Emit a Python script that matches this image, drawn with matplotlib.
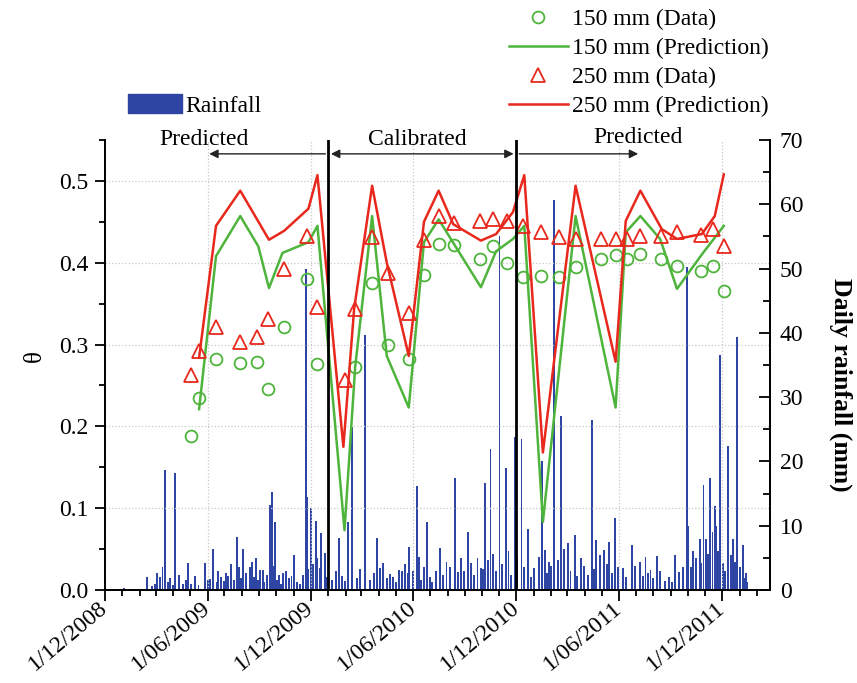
import datetime as dt
import numpy as np
import matplotlib
matplotlib.use('Agg')
import matplotlib.pyplot as plt
import matplotlib.dates as mdates
from matplotlib.ticker import MultipleLocator, FuncFormatter
from matplotlib.patches import Patch

plt.rcParams['font.family'] = ['Liberation Serif', 'DejaVu Serif']

# observed soil moisture (theta)
obs_dates = ['2009-05-02', '2009-05-17', '2009-06-16', '2009-07-29', '2009-08-28',
             '2009-09-16', '2009-10-14', '2009-11-25', '2009-12-13', '2010-01-30',
             '2010-02-18', '2010-03-20', '2010-04-17', '2010-05-24', '2010-06-20',
             '2010-07-16', '2010-08-13', '2010-09-28', '2010-10-21', '2010-11-15',
             '2010-12-13', '2011-01-14', '2011-02-14', '2011-03-16', '2011-04-30',
             '2011-05-26', '2011-06-16', '2011-07-09', '2011-08-15', '2011-09-12',
             '2011-10-24', '2011-11-15', '2011-12-04']
obs_150 = [0.188, 0.235, 0.282, 0.278, 0.279, 0.246, 0.321, 0.380, 0.276, np.nan,
           0.273, 0.375, 0.300, 0.282, 0.385, 0.423, 0.422, 0.405, 0.420, 0.400,
           0.382, 0.384, 0.382, 0.395, 0.404, 0.409, 0.404, 0.410, 0.404, 0.396,
           0.390, 0.396, 0.365]
obs_250 = [0.263, 0.292, 0.321, 0.303, 0.309, 0.331, 0.392, 0.433, 0.346, 0.257,
           0.343, 0.431, 0.388, 0.339, 0.428, 0.457, 0.449, 0.451, 0.453, 0.451,
           0.445, 0.437, 0.431, 0.429, 0.429, 0.429, 0.429, 0.432, 0.432, 0.438,
           0.434, 0.441, 0.420]

# model predictions
pred150_dates = ['2009-05-17', '2009-06-16', '2009-07-29', '2009-08-30', '2009-09-18',
                 '2009-10-12', '2009-11-27', '2009-12-13', '2010-01-30', '2010-02-18',
                 '2010-03-20', '2010-04-15', '2010-05-24', '2010-06-20', '2010-07-16',
                 '2010-09-29', '2010-10-26', '2010-11-25', '2010-12-15', '2011-01-17',
                 '2011-03-16', '2011-05-26', '2011-06-13', '2011-07-09', '2011-08-13',
                 '2011-09-12', '2011-10-26', '2011-12-04']
pred_150 = [0.221, 0.408, 0.457, 0.420, 0.369, 0.412, 0.425, 0.445, 0.073, 0.273,
            0.457, 0.286, 0.223, 0.425, 0.453, 0.370, 0.414, 0.429, 0.445, 0.083,
            0.457, 0.223, 0.437, 0.457, 0.429, 0.368, 0.410, 0.445]

pred250_dates = ['2009-05-17', '2009-06-16', '2009-07-29', '2009-09-18', '2009-10-15',
                 '2009-11-27', '2009-12-13', '2010-01-28', '2010-02-16', '2010-03-20',
                 '2010-04-15', '2010-05-24', '2010-06-20', '2010-07-16', '2010-08-11',
                 '2010-09-29', '2010-10-26', '2010-11-25', '2010-12-15', '2011-01-17',
                 '2011-03-16', '2011-05-26', '2011-06-13', '2011-07-09', '2011-08-16',
                 '2011-09-12', '2011-10-26', '2011-11-18', '2011-12-04']
pred_250 = [0.284, 0.445, 0.488, 0.428, 0.439, 0.466, 0.507, 0.175, 0.343, 0.494,
            0.400, 0.286, 0.450, 0.488, 0.447, 0.427, 0.435, 0.462, 0.507, 0.168,
            0.494, 0.279, 0.451, 0.488, 0.441, 0.429, 0.435, 0.457, 0.508]

# daily rainfall, day counted from 1/12/2008
rain_day = [34, 74, 83, 92, 97, 102, 106, 116, 125, 138, 148, 160, 178, 187, 192,
            206, 215, 224, 235, 245, 257, 261, 268, 275, 280, 293, 296, 302, 309, 316,
            321, 335, 356, 358, 365, 374, 377, 384, 390, 416, 432, 439, 462, 483, 494,
            511, 522, 527, 540, 554, 557, 566, 571, 594, 621, 644, 667, 675, 684, 700,
            712, 727, 739, 751, 776, 788, 797, 809, 822, 834, 845, 864, 871, 885, 894,
            905, 919, 935, 949, 959, 968, 980, 1012, 1025, 1033, 1035, 1044, 1055, 1062,
            1074, 1083, 1085, 1092, 1106, 1114, 1122, 1132, 1137]
rain_mm = [0.3, 2.0, 0.6, 2.6, 2.0, 3.6, 18.7, 1.8, 18.2, 1.0, 4.2, 2.2, 4.2, 1.7, 6.4,
           2.0, 2.6, 4.0, 8.2, 6.4, 3.6, 4.4, 5.0, 3.1, 3.1, 13.2, 15.2, 10.6, 2.3, 2.6,
           3.0, 5.4, 50.0, 14.5, 12.7, 10.7, 5.0, 8.9, 5.7, 8.1, 10.6, 25.3, 39.7, 8.1, 4.2,
           2.0, 3.1, 3.0, 6.7, 16.2, 5.1, 3.6, 10.6, 6.5, 17.4, 9.0, 3.4, 16.6, 22.0, 55.0,
           19.0, 23.8, 23.5, 9.5, 20.0, 4.4, 60.6, 27.0, 7.3, 8.6, 5.0, 26.4, 7.8, 6.2, 7.5,
           11.2, 3.4, 7.0, 4.4, 5.1, 3.1, 5.3, 5.4, 3.6, 50.2, 10.0, 6.0, 7.9, 16.3,
           17.4, 13.0, 10.0, 36.5, 22.4, 7.9, 39.3, 7.0, 2.6]
small_day = [88, 112, 120, 131, 143, 153, 166, 183, 198, 201, 211, 219, 229, 238, 241,
             250, 264, 272, 283, 288, 299, 305, 313, 326, 331, 340, 346, 352, 361, 369,
             381, 394, 402, 410, 420, 426, 447, 453, 470, 477, 488, 500, 505, 516, 533,
             537, 546, 561, 576, 581, 588, 600, 606, 612, 626, 631, 637, 650, 655, 661,
             670, 680, 689, 693, 705, 716, 720, 732, 744, 756, 762, 770, 780, 784, 792,
             803, 815, 826, 838, 850, 857, 868, 878, 890, 899, 910, 925, 940, 954, 964,
             973, 985, 993, 1000, 1006, 1018, 1040, 1049, 1058, 1066, 1070, 1078, 1088,
             1096, 1100, 1110, 1118, 1127, 1134, 1140]
small_mm = [1.0, 1.2, 0.8, 2.4, 1.5, 1.0, 0.8, 1.5, 1.2, 3.0, 1.4, 2.2, 1.6, 3.5, 1.8,
            2.7, 2.0, 1.5, 1.2, 2.4, 3.8, 1.5, 1.0, 1.8, 2.2, 1.2, 1.0, 2.4, 3.2, 4.0,
            3.4, 2.0, 1.5, 3.0, 2.2, 1.4, 1.8, 3.2, 1.5, 2.6, 3.4, 1.8, 2.5, 1.2, 4.0,
            2.6, 3.0, 1.6, 2.0, 1.2, 3.0, 2.4, 4.4, 3.6, 2.8, 5.0, 3.0, 4.2, 2.4, 5.0,
            3.3, 4.6, 5.6, 3.0, 4.0, 6.0, 2.4, 5.2, 3.6, 2.0, 3.4, 5.2, 6.2, 2.6, 3.8,
            4.6, 6.4, 3.0, 2.2, 3.8, 2.4, 3.2, 5.4, 4.0, 2.6, 3.6, 2.0, 3.8, 2.2, 2.6,
            1.8, 3.0, 1.4, 2.0, 1.2, 2.8, 3.6, 5.0, 4.2, 8.0, 5.6, 9.0, 6.0,
            4.2, 3.0, 5.5, 4.4, 3.6, 1.8, 1.2]

start = dt.datetime(2008, 12, 1)
to_dt = lambda lst: [dt.datetime.strptime(s, '%Y-%m-%d') for s in lst]

green = '#4fb43c'
red = '#e8281c'
blue = '#2f45a3'

fig = plt.figure(figsize=(8.57, 6.83), dpi=100)
ax = fig.add_axes([0.1225, 0.1362, 0.776, 0.6589])
ax2 = ax.twinx()

days = [start + dt.timedelta(days=d) for d in rain_day + small_day]
ax2.bar(days, rain_mm + small_mm, width=3.4, color=blue, linewidth=0)
ax2.set_ylim(0, 70)
ax2.yaxis.set_major_locator(MultipleLocator(10))
ax2.yaxis.set_minor_locator(MultipleLocator(5))
ax2.tick_params(axis='y', which='both', direction='in', labelsize=17, width=1.3, pad=7)
ax2.tick_params(axis='y', which='major', length=8)
ax2.tick_params(axis='y', which='minor', length=5)
ax2.set_ylabel('Daily rainfall (mm)', fontsize=18.5, fontweight='bold',
               rotation=270, va='center')
ax2.yaxis.set_label_coords(1.106, 0.455)

ax.set_zorder(ax2.get_zorder() + 1)
ax.patch.set_visible(False)

ax.plot(to_dt(obs_dates), obs_150, 'o', ms=8.5, mfc='none', mec=green, mew=1.3,
        label='150 mm (Data)')
ax.plot(to_dt(pred150_dates), pred_150, '-', color=green, lw=1.8,
        label='150 mm (Prediction)')
ax.plot(to_dt(obs_dates), obs_250, '^', ms=9.5, mfc='none', mec=red, mew=1.3,
        label='250 mm (Data)')
ax.plot(to_dt(pred250_dates), pred_250, '-', color=red, lw=1.8,
        label='250 mm (Prediction)')

split1 = dt.datetime(2010, 1, 1)
split2 = dt.datetime(2010, 12, 1)
for s in (split1, split2):
    ax.axvline(s, color='black', lw=2.0)

ax.set_ylim(0, 0.55)
ax.set_xlim(start, dt.datetime(2012, 2, 24))
ax.yaxis.set_major_locator(MultipleLocator(0.1))
ax.yaxis.set_minor_locator(MultipleLocator(0.05))
ax.yaxis.set_major_formatter(FuncFormatter(lambda v, p: f'{v:.1f}'))
ax.xaxis.set_major_locator(mdates.MonthLocator(bymonth=[6, 12]))
ax.xaxis.set_minor_locator(mdates.MonthLocator())
ax.xaxis.set_major_formatter(FuncFormatter(
    lambda v, p: (lambda d: f'{d.day}/{d.month:02d}/{d.year}')(mdates.num2date(v))))
ax.tick_params(axis='y', which='both', direction='out', labelsize=17, width=1.3, pad=5)
ax.tick_params(axis='y', which='major', length=7)
ax.tick_params(axis='y', which='minor', length=4)
ax.tick_params(axis='x', which='both', direction='out', labelsize=17, width=1.3, pad=3)
ax.tick_params(axis='x', which='major', length=8)
ax.tick_params(axis='x', which='minor', length=4)
for lab in ax.get_xticklabels():
    lab.set_rotation(40)
    lab.set_ha('right')
    lab.set_va('center')
    lab.set_rotation_mode('anchor')
ax.grid(True, which='major', color='#c8c8c8', linestyle=':', lw=0.9)
ax.set_ylabel('θ', fontsize=18, va='center')
ax.yaxis.set_label_coords(-0.105, 0.52)

for a in (ax, ax2):
    a.spines['top'].set_visible(False)
    for sp in ('left', 'right', 'bottom'):
        a.spines[sp].set_linewidth(1.3)

# period annotations
y_arr = 0.533
arr = dict(arrowstyle='-|>', color='#222222', lw=1.0, mutation_scale=13)
ax.annotate('', xy=(dt.datetime(2009, 5, 30), y_arr), xytext=(split1, y_arr),
            arrowprops=arr, annotation_clip=False)
ax.annotate('', xy=(split1, y_arr), xytext=(split2, y_arr),
            arrowprops=dict(arrowstyle='<|-|>', color='#222222', lw=1.0,
                            mutation_scale=13), annotation_clip=False)
ax.annotate('', xy=(dt.datetime(2011, 7, 10), y_arr), xytext=(split2, y_arr),
            arrowprops=arr, annotation_clip=False)
ax.text(dt.datetime(2009, 5, 25), 0.550, 'Predicted', fontsize=17, ha='center',
        va='center', clip_on=False)
ax.text(dt.datetime(2010, 6, 9), 0.551, 'Calibrated', fontsize=17, ha='center',
        va='center', clip_on=False)
ax.text(dt.datetime(2011, 7, 4), 0.553, 'Predicted', fontsize=17, ha='center',
        va='center', clip_on=False)

h, l = ax.get_legend_handles_labels()
fig.legend(h, l, loc='upper right', bbox_to_anchor=(0.913, 1.008), frameon=False,
           fontsize=17, handlelength=2.5, handletextpad=0.15, labelspacing=0.32,
           borderaxespad=0.2)
fig.legend([Patch(color=blue)], ['Rainfall'], loc='upper left',
           bbox_to_anchor=(0.124, 0.893), frameon=False, fontsize=17,
           handlelength=2.3, handleheight=0.85, handletextpad=0.15)

fig.savefig('out.png', dpi=100)
